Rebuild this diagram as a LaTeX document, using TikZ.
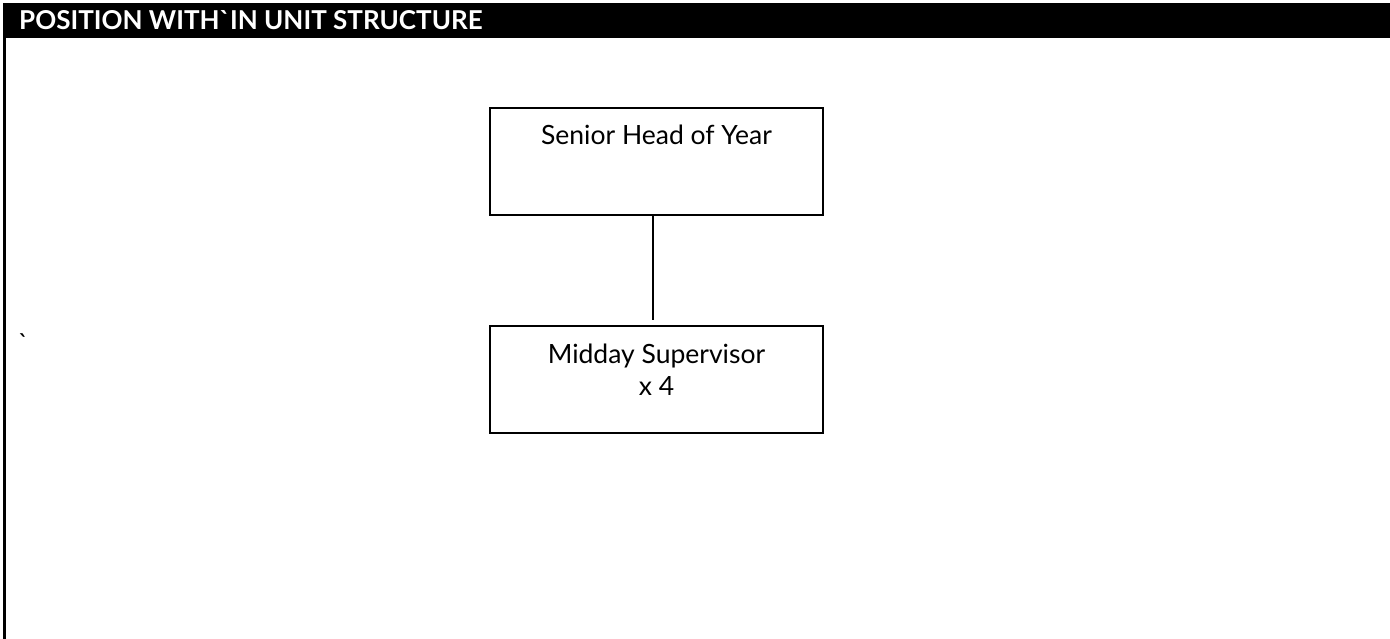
\documentclass[tikz,border=0pt]{standalone}
\usepackage{fontspec}
\setmainfont{Lato}[Ligatures=TeXOff]
\begin{document}
\begin{tikzpicture}[x=1pt,y=-1pt,
  rolebox/.style={draw=black,line width=1.6pt,minimum width=333pt,minimum height=107pt,inner sep=0pt},
  label/.style={anchor=base,font=\fontsize{26.5}{32}\selectfont,inner sep=0pt},
  link/.style={draw=black,line width=1.4pt}]
\useasboundingbox (0,0) rectangle (1390,639);
\fill[white] (0,0) rectangle (1390,639);
% header bar
\fill[black] (3,3) rectangle (1390,38);
\node[anchor=base west,text=white,font=\fontsize{26}{28}\selectfont\bfseries,inner sep=0pt] (hdr) at (19,30) {POSITION WITH`IN UNIT STRUCTURE};
% left border
\draw[line width=3pt] (4.5,38) -- (4.5,639);
% stray mark
\node[anchor=base west,font=\fontsize{26}{28}\selectfont,inner sep=0pt] (tick) at (18,352) {`};
% boxes
\node[rolebox] (shy) at (656.5,161.5) {};
\node[label] (shyt) at (656.5,145) {Senior Head of Year};
\node[rolebox] (ms) at (656.5,379.5) {};
\node[label] (mst1) at (656.5,363) {Midday Supervisor};
\node[label] (mst2) at (656.5,395) {x 4};
\draw[link] (shy.south -| 653,0) -- (653,320);
\end{tikzpicture}
\end{document}
